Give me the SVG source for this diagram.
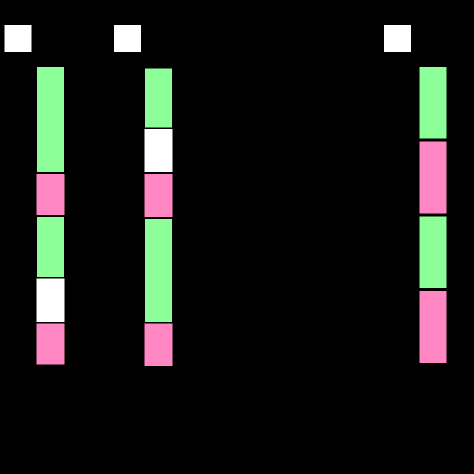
<svg xmlns="http://www.w3.org/2000/svg" width="474" height="474" viewBox="0 0 474 474">
<style>
.w{fill:#ffffff;stroke:#000;stroke-width:1}
.g{fill:#8cff98;stroke:#000;stroke-width:1}
.p{fill:#ff88c4;stroke:#000;stroke-width:1}
</style>
<rect x="0" y="0" width="474" height="474" fill="#000"/>
<g id="label1"><rect class="w" x="4" y="24.5" width="28" height="28"/></g>
<g id="label2"><rect class="w" x="113.5" y="24.5" width="28" height="28"/></g>
<g id="label3"><rect class="w" x="383.5" y="24.5" width="28" height="28"/></g>
<g id="col1">
<rect class="g" x="36.5" y="66.5" width="28" height="106"/>
<rect class="p" x="36" y="173.5" width="29" height="42"/>
<rect class="g" x="36.5" y="216.5" width="28" height="61"/>
<rect class="w" x="36" y="278" width="29" height="44.5"/>
<rect class="p" x="36" y="323" width="29" height="42"/>
</g>
<g id="col2">
<rect class="g" x="144.5" y="68" width="28" height="60"/>
<rect class="w" x="144" y="128.5" width="29" height="44"/>
<rect class="p" x="144" y="173.5" width="29" height="44"/>
<rect class="g" x="144.5" y="218.5" width="28" height="104"/>
<rect class="p" x="144" y="323" width="29" height="43.5"/>
</g>
<g id="col3">
<rect class="g" x="419" y="66.5" width="28" height="72.5"/>
<rect class="p" x="419" y="141" width="28" height="73"/>
<rect class="g" x="419" y="216" width="28" height="72.5"/>
<rect class="p" x="419" y="290.5" width="28" height="73"/>
</g>
<g id="connectors"></g>
</svg>
